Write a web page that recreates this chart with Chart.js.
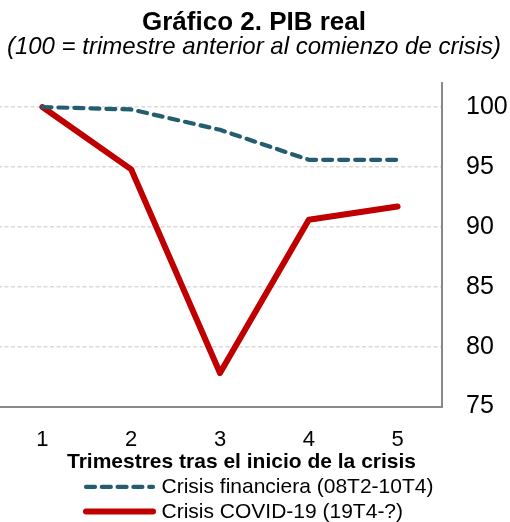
<!DOCTYPE html>
<html>
<head>
<meta charset="utf-8">
<script src="https://cdn.jsdelivr.net/npm/chart.js@4/dist/chart.umd.min.js"></script>
<style>
  html, body { margin: 0; padding: 0; background: #fff; overflow: hidden; }
  #wrap { position: absolute; left: -2px; top: 0; width: 512px; height: 522px; }
</style>
</head>
<body>
<div id="wrap"><canvas id="c" width="512" height="522"></canvas></div>
<script>
const categories = ['1', '2', '3', '4', '5'];
const crisisFinanciera = [100, 99.8, 98.1, 95.6, 95.6];
const crisisCovid = [100, 94.8, 77.8, 90.6, 91.7];
const yTicks = [75, 80, 85, 90, 95, 100];
const seriesLabels = ['Crisis financiera (08T2-10T4)', 'Crisis COVID-19 (19T4-?)'];
const titleText = 'Gráfico 2. PIB real';
const subtitleText = '(100 = trimestre anterior al comienzo de crisis)';
const xTitleText = 'Trimestres tras el inicio de la crisis';

const FONT = "'Liberation Sans', Arial, sans-serif";

const bottomTextPlugin = {
  id: 'bottomText',
  afterDraw(chart) {
    const ctx = chart.ctx;
    const ca = chart.chartArea;
    ctx.save();
    ctx.fillStyle = '#000';
    ctx.font = 'bold 21px ' + FONT;
    ctx.textAlign = 'center';
    ctx.textBaseline = 'alphabetic';
    ctx.fillText(xTitleText, 243.5, ca.bottom + 61.6);
    const rows = [ca.bottom + 80.3, ca.bottom + 105];
    chart.data.datasets.forEach((ds, i) => {
      const y = rows[i];
      ctx.beginPath();
      ctx.strokeStyle = ds.borderColor;
      ctx.lineWidth = ds.legendWidth;
      ctx.lineCap = 'round';
      ctx.setLineDash(ds.legendDash);
      ctx.moveTo(88, y);
      ctx.lineTo(155, y);
      ctx.stroke();
      ctx.setLineDash([]);
      ctx.font = '21px ' + FONT;
      ctx.textAlign = 'left';
      ctx.textBaseline = 'middle';
      ctx.fillStyle = '#000';
      ctx.fillText(ds.label, 163.5, i === 0 ? ca.bottom + 80.6 : ca.bottom + 106);
    });
    ctx.restore();
  }
};

new Chart(document.getElementById('c'), {
  type: 'line',
  data: {
    labels: categories,
    datasets: [
      {
        label: seriesLabels[0],
        data: crisisFinanciera,
        borderColor: '#245E6E',
        borderWidth: 4.2,
        borderDash: [9, 7],
        borderCapStyle: 'round',
        borderJoinStyle: 'round',
        pointRadius: 0,
        tension: 0,
        legendWidth: 4.2,
        legendDash: [9, 6.8]
      },
      {
        label: seriesLabels[1],
        data: crisisCovid,
        borderColor: '#C00000',
        borderWidth: 6,
        borderJoinStyle: 'round',
        borderCapStyle: 'round',
        pointRadius: 0,
        tension: 0,
        legendWidth: 6,
        legendDash: []
      }
    ]
  },
  options: {
    responsive: false,
    animation: false,
    devicePixelRatio: 1,
    layout: { padding: { left: 0, right: 0, top: 0, bottom: 69 } },
    plugins: {
      legend: { display: false },
      tooltip: { enabled: false },
      title: {
        display: true,
        text: titleText,
        color: '#000',
        font: { family: FONT, size: 26, weight: 'bold', lineHeight: 0.9 },
        padding: { top: 11.5, bottom: 0 }
      },
      subtitle: {
        display: true,
        text: subtitleText,
        color: '#000',
        font: { family: FONT, size: 24, style: 'italic', lineHeight: 1.0 },
        padding: { top: 0, bottom: 24.2 }
      }
    },
    scales: {
      x: {
        offset: true,
        grid: { display: false, drawTicks: false },
        border: { display: true, color: '#898989', width: 2 },
        ticks: { color: '#000', font: { family: FONT, size: 22 }, padding: 20, maxRotation: 0 },
        afterFit(s) { s.height = 46.4; }
      },
      y: {
        position: 'right',
        min: 75,
        max: 102,
        afterBuildTicks(s) { s.ticks = yTicks.map(v => ({ value: v })); },
        grid: { color: '#D9D9D9', lineWidth: 1.6, drawTicks: false },
        border: { display: true, color: '#898989', width: 2, dash: [4, 2.5] },
        ticks: { color: '#000', font: { family: FONT, size: 25 }, padding: 24 },
        afterFit(s) { s.width = 68; }
      }
    }
  },
  plugins: [bottomTextPlugin]
});
</script>
</body>
</html>
